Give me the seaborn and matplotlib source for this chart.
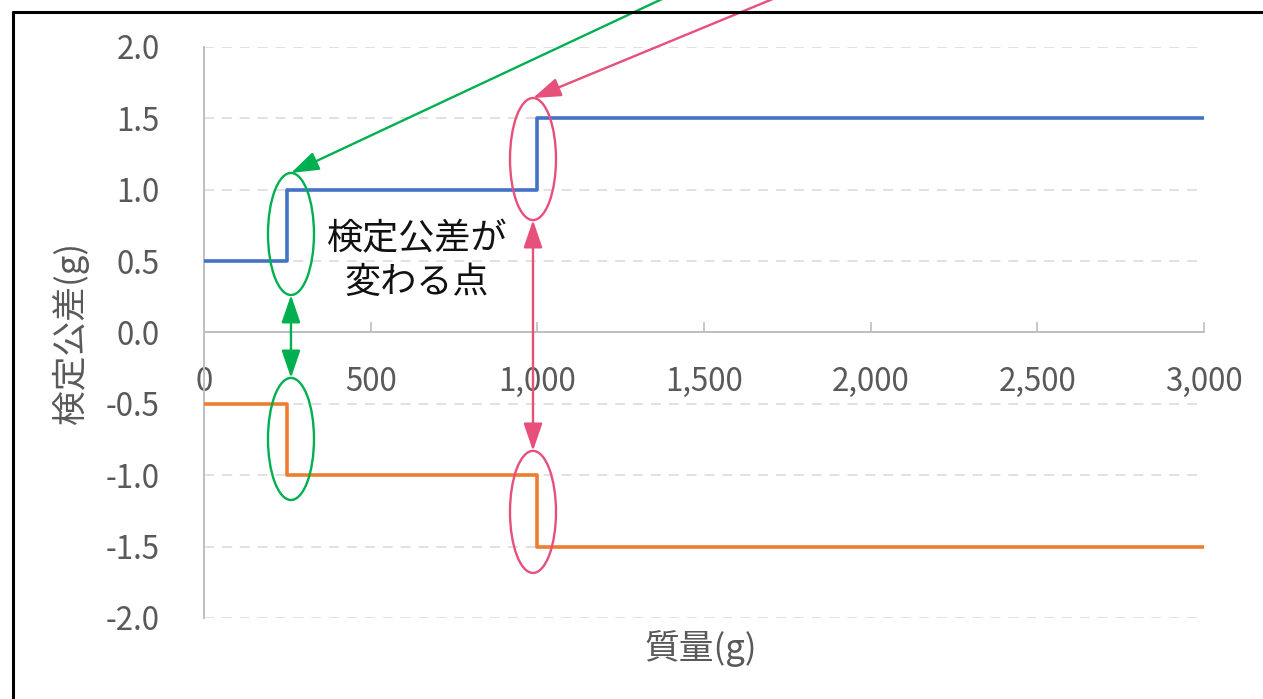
import matplotlib
matplotlib.use('Agg')
import matplotlib.pyplot as plt
import seaborn as sns
import pandas as pd
from matplotlib.patches import Ellipse
from matplotlib.lines import Line2D

# 質量の区切り(g)と検定公差(g)
mass = [0, 250, 1000, 3000]
upper_tol = [0.5, 1.0, 1.5, 1.5]
lower_tol = [-0.5, -1.0, -1.5, -1.5]

x_ticks = [0, 500, 1000, 1500, 2000, 2500, 3000]
x_tick_labels = ['0', '500', '1,000', '1,500', '2,000', '2,500', '3,000']
y_ticks = [2.0, 1.5, 1.0, 0.5, 0.0, -0.5, -1.0, -1.5, -2.0]
y_tick_labels = ['2.0', '1.5', '1.0', '0.5', '0.0', '-0.5', '-1.0', '-1.5', '-2.0']

annot_text = '検定公差が\n変わる点'

# 変わる点の囲み (中心x, 上の中心y, 下の中心y, 色, 矢印の始点[figure pixels])
marks = [
    (261, 0.69, -0.746, '#00B050', (724, 729)),
    (987, 1.215, -1.257, '#E6507A', (843, 729)),
]
ell_w = 138
ell_h = 0.855

sns.set_theme(style='white')
plt.rcParams['font.family'] = ['Noto Sans CJK JP', 'DejaVu Sans']

df = pd.DataFrame({'質量': mass + mass,
                   '公差': upper_tol + lower_tol,
                   '系列': ['上限'] * len(mass) + ['下限'] * len(mass)})

fig = plt.figure(figsize=(12.63, 6.99), dpi=100)
ax = fig.add_axes([0.1615, 0.1159, 0.7918, 0.8169])

sns.lineplot(data=df, x='質量', y='公差', hue='系列',
             palette={'上限': '#4472C4', '下限': '#ED7D31'},
             drawstyle='steps-post', linewidth=2.6, legend=False,
             estimator=None, sort=False, ax=ax, zorder=3)

ax.set_xlim(0, 3000)
ax.set_ylim(-2, 2)
ax.set_xticks(x_ticks)
ax.set_xticklabels(x_tick_labels)
ax.set_yticks(y_ticks)
ax.set_yticklabels(y_tick_labels)

gray = '#595959'
axis_gray = '#BFBFBF'
ax.yaxis.grid(True, color='#D9D9D9', linewidth=1.1, linestyle=(0, (6.5, 5.2)))
ax.xaxis.grid(False)
for s in ['top', 'right']:
    ax.spines[s].set_visible(False)
ax.spines['bottom'].set_position(('data', 0))
ax.spines['bottom'].set_color(axis_gray)
ax.spines['bottom'].set_linewidth(1.4)
ax.spines['left'].set_color(axis_gray)
ax.spines['left'].set_linewidth(1.4)

ax.tick_params(axis='x', direction='in', length=7, width=1.2, color=axis_gray,
               pad=24, labelsize=22.5, labelcolor=gray, bottom=True)
ax.tick_params(axis='y', length=0, pad=32, labelsize=22.5, labelcolor=gray)

ax.set_xlabel('質量(g)', fontsize=25, color=gray)
ax.set_ylabel('検定公差(g)', fontsize=25, color=gray)
ax.xaxis.set_label_coords(0.497, -0.053)
ax.xaxis.label.set_va('center')
ax.yaxis.set_label_coords(-0.134, 0.5)
ax.yaxis.label.set_va('center')

for cx, cy_up, cy_lo, col, start in marks:
    for cy in (cy_up, cy_lo):
        ax.add_patch(Ellipse((cx, cy), ell_w, ell_h, fill=False,
                             edgecolor=col, linewidth=1.7, zorder=4))
    arrow = dict(arrowstyle='-|>,head_length=0.85,head_width=0.29',
                 color=col, lw=1.7, shrinkA=0, shrinkB=0, mutation_scale=20)
    ax.annotate('', xy=(cx, cy_up + ell_h / 2), xytext=start,
                textcoords='figure pixels', arrowprops=arrow,
                annotation_clip=False, zorder=5)
    both = dict(arrow, arrowstyle='<|-|>,head_length=0.85,head_width=0.29')
    ax.annotate('', xy=(cx, cy_lo + ell_h / 2), xytext=(cx, cy_up - ell_h / 2),
                arrowprops=both, zorder=5)

ax.text(639, 0.5, annot_text, ha='center', va='center', fontsize=26,
        color='#111111', linespacing=1.25, zorder=6)

# 外枠
bx = 12.5 / 1263
by = 1 - 11.5 / 699
fig.add_artist(Line2D([bx, bx], [0, by], transform=fig.transFigure,
                      color='black', linewidth=2.2))
fig.add_artist(Line2D([bx, 1], [by, by], transform=fig.transFigure,
                      color='black', linewidth=2.2))

fig.savefig('out.png', dpi=100)
